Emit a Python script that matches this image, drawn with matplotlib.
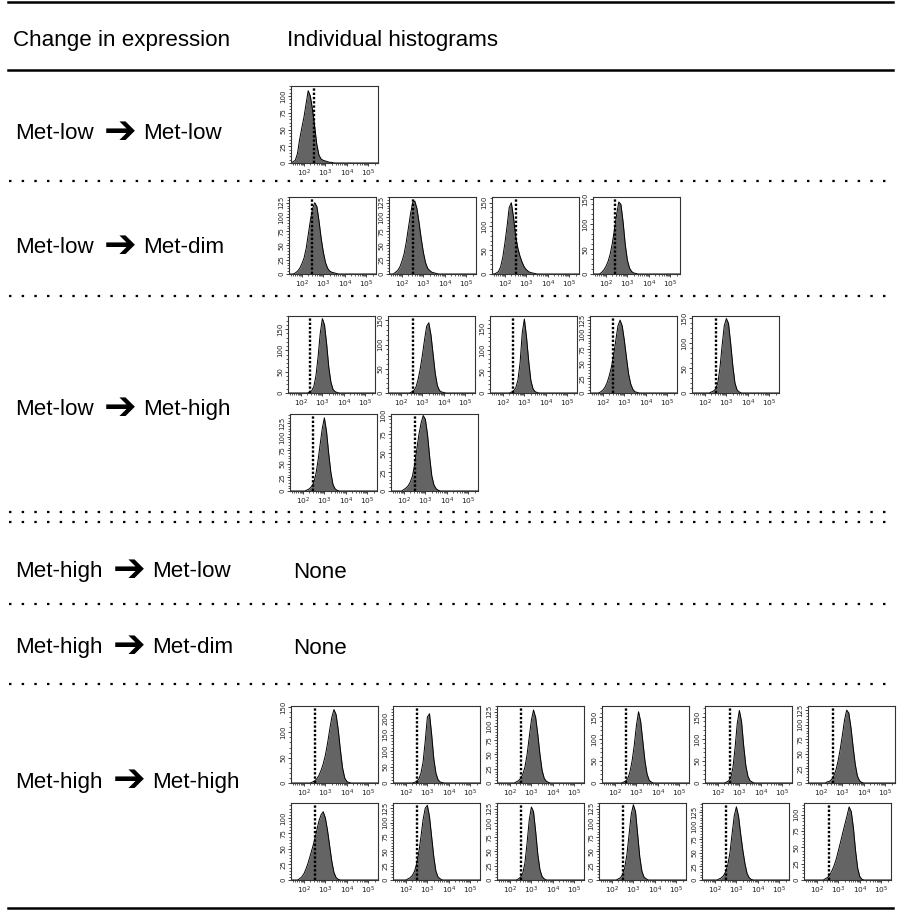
import numpy as np
import matplotlib
matplotlib.use("Agg")
import matplotlib.pyplot as plt
from matplotlib.ticker import FixedLocator, AutoMinorLocator, LogLocator, NullFormatter, FixedFormatter
from matplotlib.lines import Line2D

# ---------------- data ----------------
ROW_FROM = ["Met-low", "Met-low", "Met-low", "Met-high", "Met-high", "Met-high"]
ROW_TO = ["Met-low", "Met-dim", "Met-high", "Met-low", "Met-dim", "Met-high"]
HEADER_LEFT = "Change in expression"
HEADER_RIGHT = "Individual histograms"
NONE_TEXT = "None"

BIN_STEP = 0.1  # histogram bins, log10 units
X_TICKS = [1e2, 1e3, 1e4, 1e5]
X_TICK_LABELS = ["$10^{2}$", "$10^{3}$", "$10^{4}$", "$10^{5}$"]

# Met-low -> Met-low
LL_START = [1.5]
LL_COUNTS = [[2, 4, 14, 35, 52, 68, 88, 108, 100, 80, 55, 28, 12, 6, 4, 3, 2, 1, 1]]
LL_YMAX = [115]
LL_YSTEP = [25]
LL_THRESH = [2.45]

# Met-low -> Met-dim
LD_START = [1.7, 1.7, 1.6, 1.8]
LD_COUNTS = [
    [2, 5, 10, 18, 28, 45, 70, 95, 115, 125, 118, 92, 62, 38, 20, 10, 5, 3, 2, 1],
    [3, 6, 12, 22, 35, 55, 80, 105, 125, 128, 115, 90, 62, 38, 20, 10, 6, 3, 2, 1],
    [2, 5, 15, 35, 65, 100, 140, 150, 120, 80, 55, 38, 25, 15, 9, 5, 3, 2, 1],
    [3, 8, 15, 25, 40, 62, 90, 120, 145, 140, 105, 60, 28, 12, 5, 2, 1],
]
LD_YMAX = [135, 135, 162, 155]
LD_YSTEP = [25, 25, 50, 50]
LD_THRESH = [2.45, 2.5, 2.5, 2.42]

# Met-low -> Met-high
LH_START = [2.4, 2.5, 2.4, 1.9, 2.3, 2.2, 2.0]
LH_COUNTS = [
    [2, 5, 15, 40, 85, 140, 175, 160, 115, 60, 25, 8, 3, 1],
    [2, 5, 12, 28, 50, 78, 110, 138, 145, 120, 80, 40, 15, 5, 2, 1],
    [2, 5, 12, 30, 70, 140, 172, 130, 75, 30, 10, 3, 1],
    [2, 5, 10, 18, 30, 45, 65, 90, 115, 125, 115, 90, 60, 32, 15, 6, 2, 1],
    [2, 4, 8, 20, 50, 95, 135, 150, 140, 100, 55, 20, 6, 2],
    [2, 4, 8, 15, 30, 55, 85, 115, 135, 110, 70, 35, 12, 4, 1],
    [2, 4, 7, 12, 20, 35, 55, 75, 90, 100, 95, 75, 45, 20, 8, 3, 1],
]
LH_YMAX = [181, 159, 179, 132, 155, 142, 102]
LH_YSTEP = [50, 50, 50, 25, 50, 25, 25]
LH_THRESH = [2.42, 2.55, 2.47, 2.45, 2.5, 2.47, 2.53]

# Met-high -> Met-high
HH_START = [2.4, 2.4, 2.3, 2.4, 2.4, 2.3, 1.8, 2.1, 2.4, 2.3, 2.2, 2.4]
HH_COUNTS = [
    [2, 4, 8, 15, 25, 38, 55, 78, 105, 130, 145, 135, 105, 65, 30, 10, 3, 1],
    [2, 5, 12, 30, 65, 130, 205, 215, 150, 75, 30, 10, 3, 1],
    [2, 4, 8, 15, 28, 50, 80, 110, 128, 115, 85, 50, 22, 8, 3, 1],
    [2, 4, 10, 25, 50, 85, 130, 162, 140, 95, 50, 20, 6, 2],
    [2, 5, 12, 35, 80, 135, 165, 140, 85, 40, 15, 5, 2],
    [2, 3, 6, 12, 22, 38, 58, 82, 108, 125, 120, 95, 62, 32, 12, 4, 1],
    [2, 5, 10, 18, 28, 40, 52, 65, 80, 95, 105, 110, 100, 80, 55, 30, 12, 4, 1],
    [2, 4, 8, 15, 28, 48, 75, 105, 125, 130, 110, 75, 40, 15, 5, 2],
    [2, 5, 12, 30, 65, 105, 128, 120, 85, 45, 18, 6, 2],
    [2, 4, 10, 22, 45, 80, 115, 132, 120, 80, 40, 15, 5, 2],
    [2, 4, 8, 15, 28, 50, 85, 118, 135, 118, 85, 55, 30, 12, 4, 1],
    [2, 4, 8, 14, 22, 32, 45, 58, 72, 85, 98, 112, 105, 80, 45, 18, 5, 1],
]
HH_YMAX = [152, 239, 135, 175, 175, 132, 124, 134, 135, 135, 142, 118]
HH_YSTEP = [50, 50, 25, 50, 50, 25, 25, 25, 25, 25, 25, 25]
HH_THRESH = [2.5, 2.54, 2.5, 2.53, 2.55, 2.55, 2.53, 2.51, 2.5, 2.5, 2.53, 2.55]

# ---------------- layout (pixels) ----------------
FIG_W, FIG_H = 900, 919
PW, PH = 87, 77
LL_POS = [(291, 86)]
LD_POS = [(289, 197), (389, 197), (492, 197), (593, 197)]
LH_POS = [(288, 316), (388, 316), (490, 316), (590, 316), (692, 316),
          (290, 414), (391, 414)]
HH_POS = [(291, 706), (393, 706), (497, 706), (602, 706), (705, 706), (808, 706),
          (291, 803), (393, 803), (497, 803), (599, 803), (702, 803), (804, 803)]

ROW_BASELINES = [139, 253, 415, 577, 653, 788]
HEADER_BASELINE = 46
SOLID_RULES = [2, 70, 908]
DOTTED_RULES = [181, 296, 512, 522, 604, 684]

FONT = ["Liberation Sans", "DejaVu Sans"]
FS = 16.1
FILL = "#646464"

fig = plt.figure(figsize=(FIG_W / 100, FIG_H / 100), dpi=100)
fig.patch.set_facecolor("white")


def fx(x):
    return x / FIG_W


def fy(y):
    return 1 - y / FIG_H


# rules
for y in SOLID_RULES:
    fig.add_artist(Line2D([fx(8), fx(893)], [fy(y), fy(y)], color="black", lw=1.8,
                          transform=fig.transFigure))
for y in DOTTED_RULES:
    fig.add_artist(Line2D([fx(9), fx(890)], [fy(y), fy(y)], color="black", lw=1.6,
                          linestyle=(0, (1.1, 4.6)), transform=fig.transFigure))

# header
fig.text(fx(13), fy(HEADER_BASELINE), HEADER_LEFT, family=FONT, fontsize=FS, va="baseline")
fig.text(fx(287), fy(HEADER_BASELINE), HEADER_RIGHT, family=FONT, fontsize=FS, va="baseline")

renderer = fig.canvas.get_renderer()
for i, (a, b) in enumerate(zip(ROW_FROM, ROW_TO)):
    yb = ROW_BASELINES[i]
    t1 = fig.text(fx(15), fy(yb), a, family=FONT, fontsize=FS, va="baseline")
    x1 = t1.get_window_extent(renderer).x1
    t2 = fig.text((x1 + 10) / FIG_W, fy(yb - 7.5), "\u2794", family=["DejaVu Sans"],
                  fontsize=FS * 1.75, va="center", ha="left", fontweight="bold")
    x2 = t2.get_window_extent(renderer).x1
    fig.text((x2 + 7) / FIG_W, fy(yb), b, family=FONT, fontsize=FS, va="baseline")

for i in (3, 4):
    fig.text(fx(293), fy(ROW_BASELINES[i] + 1), NONE_TEXT, family=FONT, fontsize=FS, va="baseline")


def draw_hist(pos, start, counts, ymax, ystep, thresh):
    left, top = pos
    ax = fig.add_axes([fx(left), fy(top + PH), PW / FIG_W, PH / FIG_H])
    n = len(counts)
    logx = np.round(start + BIN_STEP * np.arange(-1, n + 1), 3)
    y = np.concatenate([[0], counts, [0]])
    xs = np.concatenate([[10 ** 1.4], 10 ** logx, [10 ** 5.45]])
    ys = np.concatenate([[0], y, [0]])
    ax.fill_between(xs, ys, 0, color=FILL, lw=0)
    ax.plot(xs, ys, color="black", lw=0.7)
    ax.axvline(10 ** thresh, color="black", lw=1.7, linestyle=(0, (1, 0.8)))
    ax.set_xscale("log")
    ax.set_xlim(10 ** 1.4, 10 ** 5.45)
    ax.set_ylim(0, ymax)
    ax.xaxis.set_major_locator(FixedLocator(X_TICKS))
    ax.xaxis.set_major_formatter(FixedFormatter(X_TICK_LABELS))
    ax.xaxis.set_minor_locator(LogLocator(base=10, subs=np.arange(2, 10), numticks=20))
    ax.xaxis.set_minor_formatter(NullFormatter())
    yt = np.arange(0, ymax + 0.1, ystep)
    ax.yaxis.set_major_locator(FixedLocator(yt))
    ax.yaxis.set_minor_locator(AutoMinorLocator(5))
    ax.set_yticklabels([str(int(v)) for v in yt], rotation=90, va="center")
    ax.tick_params(axis="both", which="major", length=2.4, width=0.6, pad=1,
                   labelsize=5.0, colors="#222222")
    ax.tick_params(axis="both", which="minor", length=1.3, width=0.45)
    for s in ax.spines.values():
        s.set_linewidth(0.8)
        s.set_color("#333333")
    for lab in ax.get_xticklabels():
        lab.set_fontsize(5.4)
    return ax


for pos, st, c, ym, ys_, th in zip(LL_POS, LL_START, LL_COUNTS, LL_YMAX, LL_YSTEP, LL_THRESH):
    draw_hist(pos, st, c, ym, ys_, th)
for pos, st, c, ym, ys_, th in zip(LD_POS, LD_START, LD_COUNTS, LD_YMAX, LD_YSTEP, LD_THRESH):
    draw_hist(pos, st, c, ym, ys_, th)
for pos, st, c, ym, ys_, th in zip(LH_POS, LH_START, LH_COUNTS, LH_YMAX, LH_YSTEP, LH_THRESH):
    draw_hist(pos, st, c, ym, ys_, th)
for pos, st, c, ym, ys_, th in zip(HH_POS, HH_START, HH_COUNTS, HH_YMAX, HH_YSTEP, HH_THRESH):
    draw_hist(pos, st, c, ym, ys_, th)

fig.savefig("out.png", dpi=100, facecolor="white")
